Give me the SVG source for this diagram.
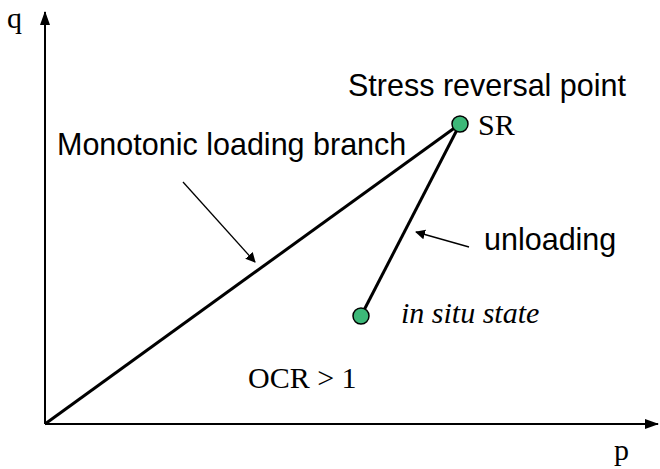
<svg xmlns="http://www.w3.org/2000/svg" width="660" height="469" viewBox="0 0 660 469">
<style>
.ax{stroke:#000;stroke-width:2;fill:none}
.br{stroke:#000;stroke-width:3;fill:none}
.ptr{stroke:#000;stroke-width:1.3;fill:none}
.pt{fill:#3cb878;stroke:#000;stroke-width:1.5}
.sans{font-family:"Liberation Sans",Arial,sans-serif;font-size:30.5px;fill:#000}
.serif{font-family:"Liberation Serif","Times New Roman",serif;font-size:30px;fill:#000}
</style>
<defs>
<marker id="ah" markerWidth="10" markerHeight="10" refX="9" refY="5" orient="auto" markerUnits="userSpaceOnUse">
<path d="M0,0 L10,5 L0,10 Z" fill="#000"/>
</marker>
<marker id="ah2" markerWidth="14" markerHeight="10" refX="13" refY="5" orient="auto" markerUnits="userSpaceOnUse">
<path d="M0,0 L14,5 L0,10 Z" fill="#000"/>
</marker>
</defs>
<g id="connectors">
<line class="ax" x1="45" y1="424" x2="45" y2="12" marker-end="url(#ah2)"/>
<line class="ax" x1="45" y1="424" x2="658" y2="424" marker-end="url(#ah2)"/>
<line class="br" x1="45" y1="424" x2="460" y2="124"/>
<line class="br" x1="460" y1="124" x2="361" y2="316"/>
<line class="ptr" x1="183" y1="182" x2="255" y2="262" marker-end="url(#ah)"/>
<line class="ptr" x1="469" y1="247" x2="416" y2="232" marker-end="url(#ah)"/>
</g>
<g id="sr">
<circle class="pt" cx="460" cy="124" r="8"/>
<text class="serif" x="478" y="135">SR</text>
<text class="sans" x="348" y="96">Stress reversal point</text>
</g>
<g id="insitu">
<circle class="pt" cx="361" cy="316" r="8"/>
<text class="serif" x="401" y="323" font-style="italic" font-size="28.8">in situ state</text>
</g>
<g id="labels">
<text class="serif" x="7" y="28">q</text>
<text class="serif" x="614" y="460">p</text>
<text class="sans" x="57" y="155">Monotonic loading branch</text>
<text class="sans" x="484" y="250">unloading</text>
<text class="serif" x="248" y="388">OCR &gt; 1</text>
</g>
</svg>
